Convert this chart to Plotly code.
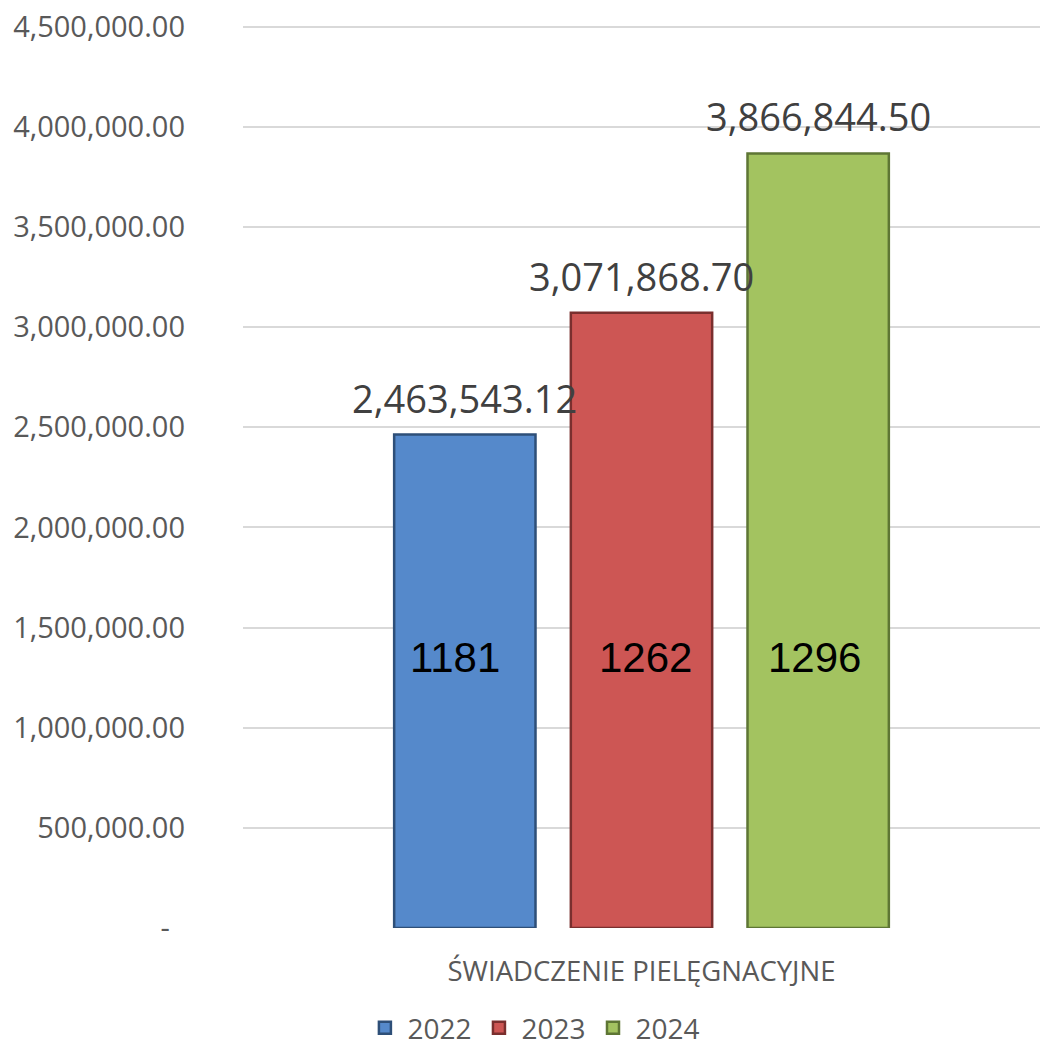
import plotly.graph_objects as go

category = ["ŚWIADCZENIE PIELĘGNACYJNE"]
years = ["2022", "2023", "2024"]
amounts = [2463543.12, 3071868.70, 3866844.50]
counts = [1181, 1262, 1296]
count_label_y = 1350000
colors = ["#5589CB", "#CD5654", "#A3C360"]
edges = ["#2E4F78", "#7A2F2E", "#5E7634"]

tick_vals = [0, 500000, 1000000, 1500000, 2000000, 2500000, 3000000, 3500000, 4000000, 4500000]
tick_text = ["-\u00a0\u00a0"] + [f"{v:,.2f}" for v in tick_vals[1:]]

bargap = 0.335
count_nudge = [-0.012, 0.005, -0.005]  # small horizontal offsets of the inner labels

fig = go.Figure()
for yr, amt, col, edge in zip(years, amounts, colors, edges):
    fig.add_trace(
        go.Bar(
            x=category,
            y=[amt],
            name=yr,
            marker=dict(color=col, line=dict(color=edge, width=2.5)),
        )
    )

# value above each bar, count written inside it
slot = (1 - bargap) / len(years)
for i, (amt, c) in enumerate(zip(amounts, counts)):
    xpos = (i - 1) * slot
    fig.add_annotation(
        x=xpos,
        y=amt,
        text=f"{amt:,.2f}",
        showarrow=False,
        yanchor="bottom",
        yshift=9,
        font=dict(family="Open Sans", size=38, color="#404040"),
    )
    fig.add_annotation(
        x=xpos + count_nudge[i],
        y=count_label_y,
        text=str(c),
        showarrow=False,
        font=dict(family="Liberation Sans", size=42, color="#000000"),
    )

fig.update_layout(
    width=1043,
    height=1047,
    barmode="group",
    bargap=bargap,
    bargroupgap=0.2,
    plot_bgcolor="white",
    paper_bgcolor="white",
    margin=dict(l=243, r=3, t=25, b=119, autoexpand=False),
    font=dict(family="Open Sans", color="#595959"),
    legend=dict(
        orientation="h",
        x=0.365,
        xanchor="center",
        y=-0.083,
        yanchor="top",
        font=dict(size=28, color="#595959"),
        itemwidth=35,
    ),
)
fig.update_xaxes(
    tickfont=dict(size=27.5, color="#595959"),
    showline=False,
    ticks="",
    automargin=False,
    ticklabelstandoff=24,
)
fig.update_yaxes(
    range=[0, 4508000],
    tickvals=tick_vals,
    ticktext=tick_text,
    tickfont=dict(size=29, color="#595959"),
    gridcolor="#D9D9D9",
    gridwidth=1.5,
    zeroline=False,
    ticks="",
    automargin=False,
    ticklabelstandoff=57,
    ticklabeloverflow="allow",
)

# drop the default page margin so the figure sits at the window's corner
fig.write_html(
    "out.html",
    config={"displayModeBar": False},
    post_script="document.body.style.margin = '0';",
)
